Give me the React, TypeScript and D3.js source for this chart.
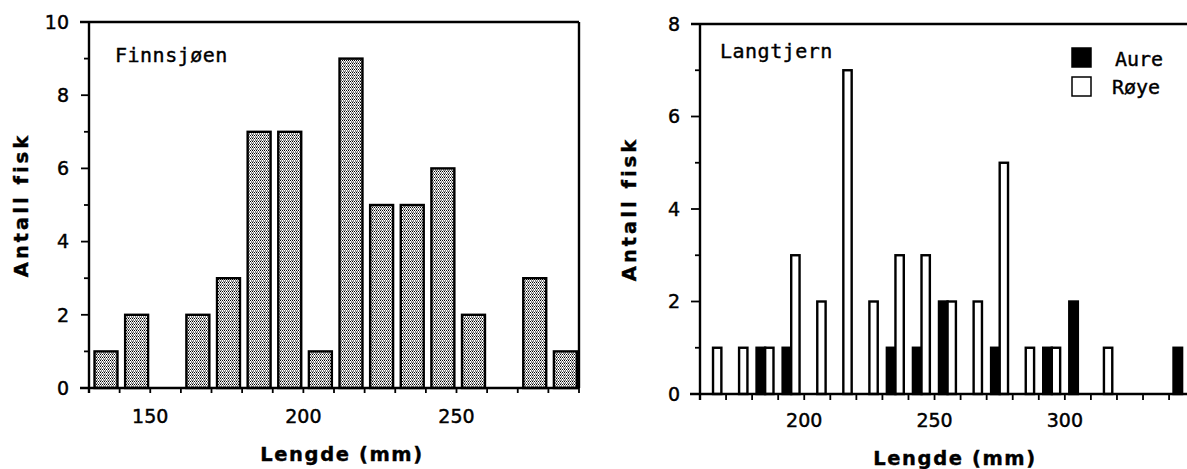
import React from "react";
import * as d3 from "d3";

// ---------- Data ----------
const finnBins = [130, 140, 150, 160, 170, 180, 190, 200, 210, 220, 230, 240, 250, 260, 270, 280];
const finnCounts = [1, 2, 0, 2, 3, 7, 7, 1, 9, 5, 5, 6, 2, 0, 3, 1];

const langBins = [160, 170, 180, 190, 200, 210, 220, 230, 240, 250, 260, 270, 280, 290, 300, 310, 320, 330, 340];
const aureCounts = [0, 0, 1, 1, 0, 0, 0, 1, 1, 2, 0, 1, 0, 1, 2, 0, 0, 0, 1];
const royeCounts = [1, 1, 1, 3, 2, 7, 2, 3, 3, 2, 2, 5, 1, 1, 0, 1, 0, 0, 0];

const finnXLabels = [150, 200, 250];
const langXLabels = [200, 250, 300];
const finnYLabels = [0, 2, 4, 6, 8, 10];
const langYLabels = [0, 2, 4, 6, 8];

const finnTitle = "Finnsjøen";
const langTitle = "Langtjern";
const xTitle = "Lengde (mm)";
const yTitle = "Antall fisk";
const legendLabels = ["Aure", "Røye"];

const W = 1187;
const H = 469;

const tickFont = "DejaVu Sans, sans-serif";
const monoFont = "DejaVu Sans Mono, monospace";

export default function App() {
  // Left panel scales
  const xL = d3.scaleLinear().domain([130, 290]).range([89, 579]);
  const yL = d3.scaleLinear().domain([0, 10]).range([388, 22]);
  // Right panel scales
  const xR = d3.scaleLinear().domain([160, 350]).range([700, 700 + 190 * 2.606]);
  const yR = d3.scaleLinear().domain([0, 8]).range([394, 24]);

  const sw = 2.4;
  const tickTextProps = {
    fontFamily: tickFont,
    fontSize: 19,
    stroke: "#000",
    strokeWidth: 0.45,
  };
  const monoProps = {
    fontFamily: monoFont,
    fontSize: 20,
    stroke: "#000",
    strokeWidth: 0.4,
  };
  const titleProps = {
    fontFamily: tickFont,
    fontWeight: "bold" as const,
    fontSize: 19.5,
    stroke: "#000",
    strokeWidth: 0.4,
  };

  return (
    <svg
      width={W}
      height={H}
      viewBox={`0 0 ${W} ${H}`}
      style={{ position: "absolute", left: 0, top: 0, background: "#fff" }}
    >
      <defs>
        <pattern id="stipple" width="4" height="3" patternUnits="userSpaceOnUse">
          <rect width="4" height="3" fill="#fff" />
          <rect x="0" y="0" width="1" height="1" fill="#000" />
          <rect x="2" y="0" width="1" height="1" fill="#000" />
          <rect x="1" y="1.5" width="1" height="1" fill="#000" />
          <rect x="3" y="1.5" width="1" height="1" fill="#000" />
          <rect x="0" y="2" width="1" height="1" fill="#000" opacity="0.35" />
        </pattern>
      </defs>
      <rect width={W} height={H} fill="#fff" />

      {/* ================= LEFT PANEL ================= */}
      <g>
        {finnBins.map((b, i) =>
          finnCounts[i] > 0 ? (
            <rect
              key={`fb${i}`}
              x={xL(b + 1.8)}
              y={yL(finnCounts[i])}
              width={xL(b + 9.3) - xL(b + 1.8)}
              height={yL(0) - yL(finnCounts[i])}
              fill="url(#stipple)"
              stroke="#000"
              strokeWidth={sw}
            />
          ) : null
        )}
        {/* frame */}
        <line x1={80} x2={xL(290)} y1={yL(10)} y2={yL(10)} stroke="#000" strokeWidth={sw} />
        <line x1={xL(290)} x2={xL(290)} y1={yL(10)} y2={yL(0)} stroke="#000" strokeWidth={sw} />
        <line x1={xL(130)} x2={xL(130)} y1={yL(10)} y2={yL(0) + 5} stroke="#000" strokeWidth={sw} />
        <line x1={80} x2={xL(290)} y1={yL(0)} y2={yL(0)} stroke="#000" strokeWidth={sw} />
        {d3.range(0, 11).map((v) => (
          <line
            key={`lyt${v}`}
            x1={xL(130) - (v % 2 === 0 ? 8 : 5)}
            x2={xL(130)}
            y1={yL(v)}
            y2={yL(v)}
            stroke="#000"
            strokeWidth={1.8}
          />
        ))}
        {finnYLabels.map((v) => (
          <text key={`lyl${v}`} x={69} y={yL(v)} dy="0.36em" textAnchor="end" {...tickTextProps}>
            {v}
          </text>
        ))}
        {d3.range(130, 291, 10).map((v) => (
          <line
            key={`lxt${v}`}
            x1={xL(v)}
            x2={xL(v)}
            y1={yL(0)}
            y2={yL(0) + 5}
            stroke="#000"
            strokeWidth={1.8}
          />
        ))}
        {finnXLabels.map((v) => (
          <text key={`lxl${v}`} x={xL(v)} y={423} textAnchor="middle" {...tickTextProps}>
            {v}
          </text>
        ))}
        <text x={342} y={461} textAnchor="middle" letterSpacing={1.6} {...titleProps}>
          {xTitle}
        </text>
        <text
          transform={`translate(28,${(yL(0) + yL(10)) / 2}) rotate(-90)`}
          textAnchor="middle"
          letterSpacing={3}
          {...titleProps}
        >
          {yTitle}
        </text>
        <text x={115} y={62} letterSpacing={0.5} {...monoProps}>
          {finnTitle}
        </text>
      </g>

      {/* ================= RIGHT PANEL ================= */}
      <g>
        {langBins.map((b, i) => (
          <g key={`rb${i}`}>
            {aureCounts[i] > 0 && (
              <rect
                x={xR(b + 1.7)}
                y={yR(aureCounts[i])}
                width={xR(b + 5) - xR(b + 1.7)}
                height={yR(0) - yR(aureCounts[i])}
                fill="#000"
                stroke="#000"
                strokeWidth={sw}
              />
            )}
            {royeCounts[i] > 0 && (
              <rect
                x={xR(b + 5)}
                y={yR(royeCounts[i])}
                width={xR(b + 8.2) - xR(b + 5)}
                height={yR(0) - yR(royeCounts[i])}
                fill="#fff"
                stroke="#000"
                strokeWidth={sw}
              />
            )}
          </g>
        ))}
        <line x1={691} x2={xR(350)} y1={yR(8)} y2={yR(8)} stroke="#000" strokeWidth={sw} />
        <line x1={xR(350)} x2={xR(350)} y1={yR(8)} y2={yR(0)} stroke="#000" strokeWidth={sw} />
        <line x1={xR(160)} x2={xR(160)} y1={yR(8)} y2={yR(0) + 6} stroke="#000" strokeWidth={sw} />
        <line x1={690} x2={xR(350)} y1={yR(0)} y2={yR(0)} stroke="#000" strokeWidth={sw} />
        {d3.range(0, 9).map((v) => (
          <line
            key={`ryt${v}`}
            x1={xR(160) - (v % 2 === 0 ? 9 : 5)}
            x2={xR(160)}
            y1={yR(v)}
            y2={yR(v)}
            stroke="#000"
            strokeWidth={1.8}
          />
        ))}
        {langYLabels.map((v) => (
          <text key={`ryl${v}`} x={680} y={yR(v)} dy="0.36em" textAnchor="end" {...tickTextProps}>
            {v}
          </text>
        ))}
        {d3.range(160, 341, 10).map((v) => (
          <line
            key={`rxt${v}`}
            x1={xR(v)}
            x2={xR(v)}
            y1={yR(0)}
            y2={yR(0) + 6}
            stroke="#000"
            strokeWidth={1.8}
          />
        ))}
        {langXLabels.map((v) => (
          <text key={`rxl${v}`} x={xR(v)} y={427} textAnchor="middle" {...tickTextProps}>
            {v}
          </text>
        ))}
        <text x={955} y={465} textAnchor="middle" letterSpacing={1.6} {...titleProps}>
          {xTitle}
        </text>
        <text
          transform={`translate(636,${(yR(0) + yR(8)) / 2}) rotate(-90)`}
          textAnchor="middle"
          letterSpacing={3}
          {...titleProps}
        >
          {yTitle}
        </text>
        <text x={720} y={58} letterSpacing={0.5} {...monoProps}>
          {langTitle}
        </text>
        <rect x={1072} y={48} width={19} height={19} fill="#000" stroke="#000" strokeWidth={1.5} />
        <rect x={1072} y={77} width={19} height={19} fill="#fff" stroke="#000" strokeWidth={1.5} />
        <text x={1115} y={66} {...monoProps}>
          {legendLabels[0]}
        </text>
        <text x={1112} y={94} {...monoProps}>
          {legendLabels[1]}
        </text>
      </g>
    </svg>
  );
}
